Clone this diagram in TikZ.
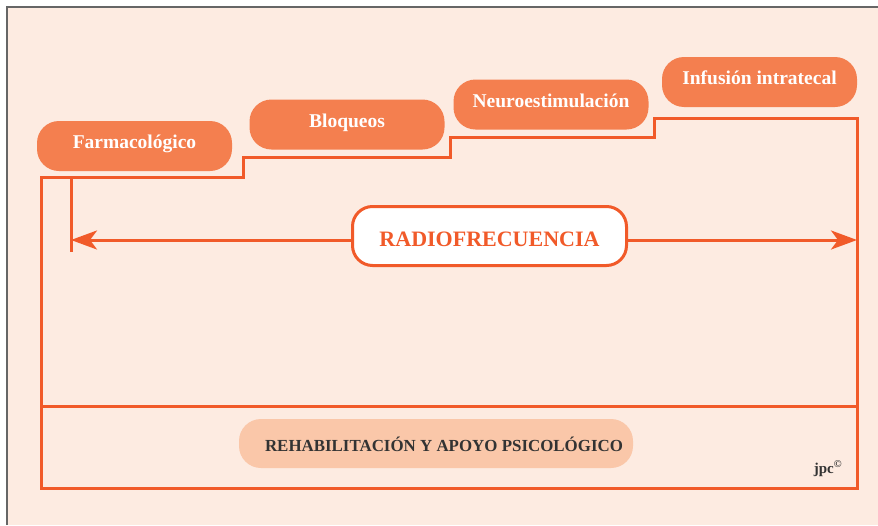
\documentclass[tikz,border=0pt]{standalone}
\usepackage{fontspec}
\setmainfont{Liberation Serif}
\usetikzlibrary{arrows.meta}
\definecolor{bgbeige}{HTML}{FDEBE1}
\definecolor{lineor}{HTML}{F15A29}
\definecolor{boxor}{HTML}{F47F4F}
\definecolor{peach}{HTML}{FAC7A9}
\definecolor{darktext}{HTML}{333333}
\tikzset{
  stepbox/.style={fill=boxor, draw=none, rounded corners=22pt, minimum width=195pt, minimum height=50pt, inner sep=0pt, text=white, text height=14pt, text depth=9pt, font=\bfseries\fontsize{19.5}{22}\selectfont},
  radiobox/.style={fill=white, draw=lineor, line width=3pt, rounded corners=20pt, minimum width=274pt, minimum height=59pt, inner sep=0pt, text=lineor, text height=21pt, text depth=0pt, font=\bfseries\fontsize{22}{26}\selectfont},
  rehabbox/.style={fill=peach, draw=none, rounded corners=22pt, minimum width=394pt, minimum height=49pt, inner sep=0pt},
  rehabtext/.style={text=darktext, inner sep=0pt, font=\bfseries\fontsize{16.9}{19}\selectfont},
  frameline/.style={draw=lineor, line width=3pt},
  dblarrow/.style={draw=lineor, line width=3pt, {Stealth[length=26pt,width=19pt,inset=7pt]}-{Stealth[length=26pt,width=19pt,inset=7pt]}}
}
\begin{document}
\begin{tikzpicture}[x=1pt,y=-1pt]
\useasboundingbox (0,0) rectangle (878,525);
\fill[white] (0,0) rectangle (878,525);
\fill[bgbeige] (7,7) rectangle (878,525);
\draw[gray!80!black, line width=1.5pt] (7,525) -- (7,7) -- (878,7);
% frame and staircase
\draw[frameline, line join=miter] (41,177) -- (243,177) -- (243,157) -- (450,157) -- (450,137) -- (654,137) -- (654,118) -- (857,118) -- (857,488) -- (41,488) -- cycle;
\draw[frameline] (41,406) -- (857,406);
% coordinates for the arrow
\coordinate (ltop) at (71,177);
\coordinate (lbot) at (71,252);
\coordinate (aL) at (71,240);
\coordinate (aR) at (857,240);
\draw[frameline] (ltop) -- (lbot);
\draw[dblarrow] (aL) -- (aR);
% step boxes
\node[stepbox] (farm) at (134.5,146) {Farmacológico};
\node[stepbox] (bloq) at (347,124.5) {Bloqueos};
\node[stepbox] (neuro) at (551,104.5) {Neuroestimulación};
\node[stepbox] (infu) at (759.5,82) {Infusión intratecal};
% radiofrecuencia
\node[radiobox] (radio) at (489.5,236) {RADIOFRECUENCIA};
% rehabilitacion
\node[rehabbox] (rehab) at (436,443.5) {};
\node[rehabtext] (rehabt) at (444,444.5) {REHABILITACIÓN Y APOYO PSICOLÓGICO};
% signature
\node[text=darktext, font=\bfseries\fontsize{15}{17}\selectfont, anchor=base, inner sep=0pt] (jpc) at (828,473) {jpc\textsuperscript{\textcopyright}};
\end{tikzpicture}
\end{document}
